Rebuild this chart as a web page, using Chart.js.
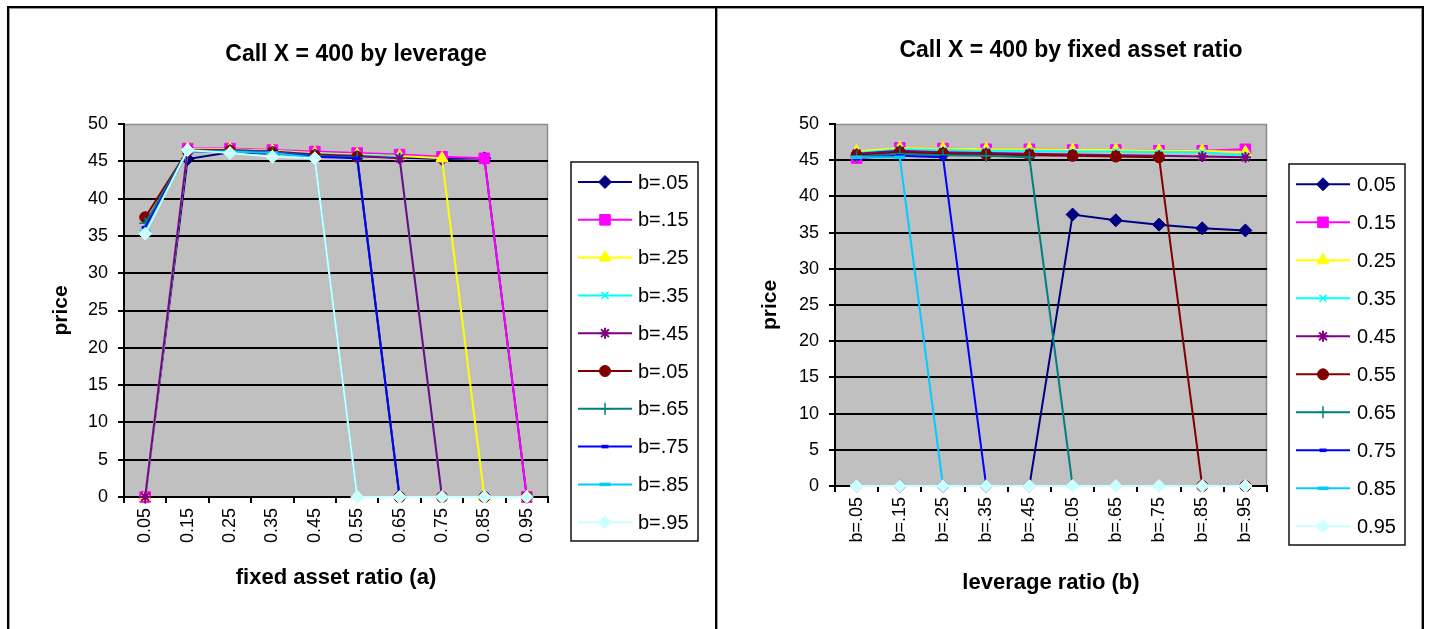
<!DOCTYPE html>
<html><head><meta charset="utf-8">
<script src="https://cdn.jsdelivr.net/npm/chart.js@4.4.1/dist/chart.umd.min.js"></script>
<style>
html,body{margin:0;padding:0;background:#fff;width:1430px;height:629px;overflow:hidden;}
.cv{position:absolute;}
.ln{position:absolute;background:#000;z-index:5;}
.gl{position:absolute;background:#9a9a9a;z-index:4;}
</style></head><body>
<canvas id="c1" class="cv" style="left:9px;top:8px;" width="694" height="621"></canvas>
<canvas id="c2" class="cv" style="left:718px;top:8px;" width="706" height="621"></canvas>
<div class="ln" style="left:7px;top:6px;width:1417px;height:2px"></div>
<div class="ln" style="left:7px;top:6px;width:2px;height:623px"></div>
<div class="ln" style="left:715px;top:6px;width:2px;height:623px"></div>
<div class="ln" style="left:1422px;top:6px;width:2px;height:623px"></div>
<div class="gl" style="left:9px;top:8px;width:706px;height:1px"></div>
<div class="gl" style="left:717px;top:8px;width:704px;height:1px"></div>
<div class="gl" style="left:9px;top:8px;width:1px;height:621px"></div>
<div class="gl" style="left:717px;top:8px;width:1px;height:621px"></div>
<div class="gl" style="left:1421px;top:8px;width:1px;height:621px"></div>
<script>
// ---- data ----
const fixedAssetRatios = ['0.05','0.15','0.25','0.35','0.45','0.55','0.65','0.75','0.85','0.95'];
const leverageLabels = ['b=.05','b=.15','b=.25','b=.35','b=.45','b=.05','b=.65','b=.75','b=.85','b=.95'];
// price rows: one per fixed asset ratio a, columns = leverage b (.05 ... .95)
const priceA05 = [0, 0, 0, 0, 0, 37.5, 36.7, 36.1, 35.6, 35.3];
const priceA15 = [45.3, 46.7, 46.6, 46.5, 46.5, 46.4, 46.4, 46.3, 46.3, 46.5];
const priceA25 = [46.2, 46.7, 46.6, 46.5, 46.5, 46.4, 46.4, 46.3, 46.3, 46.1];
const priceA35 = [46.0, 46.5, 46.4, 46.3, 46.3, 46.2, 46.2, 46.1, 46.1, 45.6];
const priceA45 = [45.9, 46.3, 46.1, 46.0, 45.9, 45.8, 45.7, 45.6, 45.5, 45.4];
const priceA55 = [45.7, 46.1, 45.9, 45.8, 45.7, 45.6, 45.5, 45.4, 0, 0];
const priceA65 = [45.5, 45.9, 45.7, 45.6, 45.4, 0, 0, 0, 0, 0];
const priceA75 = [45.3, 45.6, 45.4, 0, 0, 0, 0, 0, 0, 0];
const priceA85 = [45.4, 45.4, 0, 0, 0, 0, 0, 0, 0, 0];
const priceA95 = [0, 0, 0, 0, 0, 0, 0, 0, 0, 0];
const priceRows = [priceA05, priceA15, priceA25, priceA35, priceA45, priceA55, priceA65, priceA75, priceA85, priceA95];
const yTicks = [0,5,10,15,20,25,30,35,40,45,50];

// ---- styles ----
const FONT = '"Liberation Sans", Arial, sans-serif';
Chart.defaults.font.family = FONT;
const seriesColors = ['#000080','#FF00FF','#FFFF00','#00FFFF','#800080','#800000','#008080','#0000FF','#00CCFF','#CCFFFF'];
const seriesMarkers = ['rectRot','rect','triangle','crossRot','star','circle','cross','line','line','rectRot'];
const markerRadius = [6.5, 7.5, 7, 5, 5.5, 5.5, 6, 3.5, 5.5, 6.5];
const markerBorder = [1, 1, 1, 1.5, 2, 1, 1.5, 3.5, 3.5, 1];

function makeDataset(label, data, i) {
  return {
    label, data,
    borderColor: seriesColors[i], backgroundColor: seriesColors[i],
    pointBorderColor: seriesColors[i], pointBackgroundColor: seriesColors[i],
    borderWidth: 2, tension: 0,
    pointStyle: seriesMarkers[i], pointRadius: markerRadius[i], pointBorderWidth: markerBorder[i],
    order: -i, clip: false
  };
}

const plotBg = {
  id: 'plotBg',
  beforeDraw(chart) {
    const {ctx, chartArea: a} = chart;
    ctx.save();
    ctx.fillStyle = '#C0C0C0';
    ctx.fillRect(a.left, a.top, a.right - a.left, a.bottom - a.top);
    ctx.strokeStyle = '#8c8c8c'; ctx.lineWidth = 1.5;
    ctx.beginPath();
    ctx.moveTo(a.left, a.top + 0.5); ctx.lineTo(a.right - 0.5, a.top + 0.5); ctx.lineTo(a.right - 0.5, a.bottom);
    ctx.stroke();
    ctx.restore();
  }
};

const boxLegend = {
  id: 'boxLegend',
  afterDraw(chart, args, o) {
    const ctx = chart.ctx;
    ctx.save();
    ctx.strokeStyle = '#111'; ctx.lineWidth = 1.5;
    ctx.strokeRect(o.x, o.y, o.w, o.h);
    ctx.font = o.fontSize + 'px ' + FONT;
    ctx.textBaseline = 'middle'; ctx.textAlign = 'left';
    chart.data.datasets.forEach((ds, i) => {
      const y = o.first + i * o.step;
      ctx.strokeStyle = ds.borderColor; ctx.lineWidth = 2;
      ctx.beginPath(); ctx.moveTo(o.lx1, y); ctx.lineTo(o.lx2, y); ctx.stroke();
      ctx.strokeStyle = ds.pointBorderColor; ctx.fillStyle = ds.pointBackgroundColor;
      ctx.lineWidth = ds.pointBorderWidth;
      Chart.helpers.drawPoint(ctx, {pointStyle: ds.pointStyle, radius: ds.pointRadius, rotation: 0, borderWidth: ds.pointBorderWidth}, (o.lx1 + o.lx2) / 2, y);
      ctx.fillStyle = '#000';
      ctx.fillText(ds.label, o.tx, y + 1);
    });
    ctx.restore();
  }
};

function scalesCfg(o) {
  return {
    x: {
      type: 'category', offset: true,
      grid: {display: true, offset: true, drawOnChartArea: false, drawTicks: true, tickLength: 6, color: '#000', lineWidth: 2},
      border: {display: true, color: '#000', width: 2},
      ticks: {color: '#000', font: {size: 18}, maxRotation: 90, minRotation: 90, padding: 5, autoSkip: false},
      title: {display: true, text: o.xTitle, color: '#000', font: {size: 22, weight: 'bold'}, padding: {top: 0, bottom: o.xTitlePad}},
      afterFit: s => { s.height = o.xHeight; }
    },
    y: {
      min: 0, max: 50,
      afterBuildTicks: s => { s.ticks = yTicks.map(v => ({value: v})); },
      ticks: {color: '#000', font: {size: 18}, padding: 10},
      grid: {color: c => (c.tick && c.tick.value === 50) ? 'rgba(0,0,0,0)' : '#000', tickColor: '#000', lineWidth: 2, tickLength: 6, drawTicks: true},
      border: {display: true, color: '#000', width: 2},
      title: {display: true, text: 'price', color: '#000', font: {size: 21, weight: 'bold'}, padding: {top: 39.4, bottom: 0}},
      afterFit: s => { s.width = o.yWidth; }
    },
    yR: {
      position: 'right', display: true, min: 0, max: 50,
      grid: {display: false, drawTicks: false}, border: {display: false}, ticks: {display: false},
      afterFit: s => { s.width = o.rightWidth; }
    }
  };
}

// ---- left chart: series by leverage b, x = fixed asset ratio a ----
const leftDatasets = leverageLabels.map((lab, j) => makeDataset(lab, priceRows.map(r => r[j]), j));
new Chart(document.getElementById('c1'), {
  type: 'line',
  data: {labels: fixedAssetRatios, datasets: leftDatasets},
  options: {
    responsive: false, animation: false, events: [],
    layout: {padding: 0},
    scales: scalesCfg({xTitle: 'fixed asset ratio (a)', xTitlePad: 37.8, xHeight: 132, yWidth: 115, rightWidth: 155}),
    plugins: {
      legend: {display: false}, tooltip: {enabled: false},
      title: {display: true, text: 'Call X = 400 by leverage', color: '#000', font: {size: 23, weight: 'bold'}, padding: {top: 32.5, bottom: 55.9}},
      boxLegend: {x: 562, y: 154, w: 127, h: 379, first: 174, step: 37.8, lx1: 569, lx2: 623, tx: 629, fontSize: 20}
    }
  },
  plugins: [plotBg, boxLegend]
});

// ---- right chart: series by fixed asset ratio a, x = leverage b ----
const rightDatasets = fixedAssetRatios.map((lab, i) => makeDataset(lab, priceRows[i], i));
new Chart(document.getElementById('c2'), {
  type: 'line',
  data: {labels: leverageLabels, datasets: rightDatasets},
  options: {
    responsive: false, animation: false, events: [],
    layout: {padding: 0},
    scales: scalesCfg({xTitle: 'leverage ratio (b)', xTitlePad: 32.8, xHeight: 143, yWidth: 117, rightWidth: 157}),
    plugins: {
      legend: {display: false}, tooltip: {enabled: false},
      title: {display: true, text: 'Call X = 400 by fixed asset ratio', color: '#000', font: {size: 23, weight: 'bold'}, padding: {top: 29.2, bottom: 59.2}},
      boxLegend: {x: 571, y: 156, w: 116, h: 381, first: 176.3, step: 38, lx1: 578, lx2: 632, tx: 639, fontSize: 20}
    }
  },
  plugins: [plotBg, boxLegend]
});
</script>
</body></html>
